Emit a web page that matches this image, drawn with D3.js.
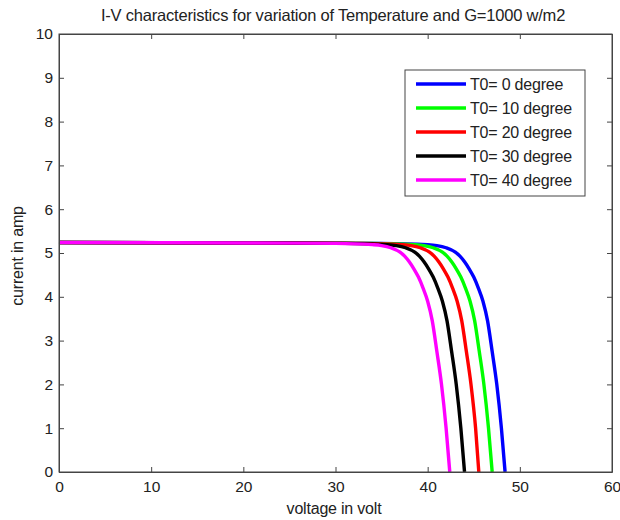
<!DOCTYPE html>
<html>
<head>
<meta charset="utf-8">
<script src="https://cdn.jsdelivr.net/npm/d3@7"></script>
<style>
  body { margin: 0; background: #fff; }
  text { font-family: "Liberation Sans", Arial, sans-serif; fill: #222; }
</style>
</head>
<body>
<svg id="chart" width="620" height="520"></svg>
<script>
'use strict';

// values
const current = [5.24, 5.23, 5.22, 5.19, 5.17, 5.12, 5.02, 4.93, 4.8, 4.64, 4.45, 4.2, 3.9, 3.45, 2.75, 2.0, 1.0, 0];
const voltT0  = [0, 20, 35, 40, 41, 42, 43, 43.5, 44, 44.5, 45, 45.5, 46, 46.5, 47, 47.5, 48, 48.4];
const voltT10 = [0, 20, 34, 38.6, 39.6, 40.6, 41.6, 42.1, 42.6, 43.1, 43.6, 44.1, 44.6, 45.1, 45.6, 46.1, 46.6, 47.0];
const voltT20 = [0, 20, 33, 37.2, 38.2, 39.2, 40.2, 40.7, 41.2, 41.7, 42.2, 42.7, 43.2, 43.7, 44.2, 44.7, 45.2, 45.55];
const voltT30 = [0, 20, 31, 35.6, 36.6, 37.6, 38.6, 39.1, 39.6, 40.1, 40.6, 41.1, 41.6, 42.1, 42.6, 43.1, 43.6, 44.0];
const voltT40 = [0, 20, 30, 34, 35, 36, 37, 37.5, 38, 38.5, 39, 39.5, 40, 40.5, 41, 41.5, 42, 42.4];

const seriesNames = ["T0= 0 degree", "T0= 10 degree", "T0= 20 degree", "T0= 30 degree", "T0= 40 degree"];
const seriesColors = ["#0000ff", "#00ff00", "#ff0000", "#000000", "#ff00ff"];
const seriesVolts = [voltT0, voltT10, voltT20, voltT30, voltT40];

const xTicks = [0, 10, 20, 30, 40, 50, 60];
const yTicks = [0, 1, 2, 3, 4, 5, 6, 7, 8, 9, 10];

const plotLeft = 59, plotRight = 612, plotTop = 34, plotBottom = 472;

const svg = d3.select("#chart");

let x = d3.scaleLinear().domain([0, 60]).range([plotLeft, plotRight]);
let y = d3.scaleLinear().domain([0, 10]).range([plotBottom, plotTop]);

// curves
let line = d3.line()
    .x(d => x(d[0]))
    .y(d => y(d[1]))
    .curve(d3.curveMonotoneX);

seriesVolts.forEach((volts, i) => {
    let pts = volts.map((v, j) => [v, current[j]]);
    svg.append("path")
        .attr("d", line(pts))
        .attr("fill", "none")
        .attr("stroke", seriesColors[i])
        .attr("stroke-width", 3.4)
        .attr("stroke-linejoin", "round");
});

// frame with inward ticks, matlab style
const axisColor = "#444";
svg.append("rect")
    .attr("x", plotLeft).attr("y", plotTop)
    .attr("width", plotRight - plotLeft).attr("height", plotBottom - plotTop)
    .attr("fill", "none")
    .attr("stroke", axisColor)
    .attr("stroke-width", 1);

let xAxis = svg.append("g")
    .attr("transform", `translate(0,${plotBottom})`)
    .call(d3.axisBottom(x).tickValues(xTicks).tickSizeInner(-5).tickSizeOuter(0).tickPadding(9));
let xAxisTop = svg.append("g")
    .attr("transform", `translate(0,${plotTop})`)
    .call(d3.axisTop(x).tickValues(xTicks).tickSizeInner(-5).tickSizeOuter(0).tickFormat(""));
let yAxis = svg.append("g")
    .attr("transform", `translate(${plotLeft},0)`)
    .call(d3.axisLeft(y).tickValues(yTicks).tickSizeInner(-5).tickSizeOuter(0).tickPadding(6));
let yAxisRight = svg.append("g")
    .attr("transform", `translate(${plotRight},0)`)
    .call(d3.axisRight(y).tickValues(yTicks).tickSizeInner(-5).tickSizeOuter(0).tickFormat(""));

[xAxis, xAxisTop, yAxis, yAxisRight].forEach(g => {
    g.select(".domain").attr("stroke", axisColor);
    g.selectAll(".tick line").attr("stroke", axisColor);
    g.selectAll(".tick text")
        .style("font-family", "Liberation Sans, Arial, sans-serif")
        .style("font-size", "15.5px")
        .attr("fill", "#222");
});

// title and axis labels
svg.append("text")
    .attr("x", 333).attr("y", 21)
    .attr("text-anchor", "middle")
    .style("font-size", "16.5px")
    .style("letter-spacing", "-0.2px")
    .text("I-V characteristics for variation of Temperature and G=1000 w/m2");

svg.append("text")
    .attr("x", 334).attr("y", 514)
    .attr("text-anchor", "middle")
    .style("font-size", "16px")
    .style("letter-spacing", "-0.2px")
    .text("voltage in volt");

svg.append("text")
    .attr("transform", "translate(23,256) rotate(-90)")
    .attr("text-anchor", "middle")
    .style("font-size", "16px")
    .style("letter-spacing", "-0.2px")
    .text("current in amp");

// legend
let legend = svg.append("g");
legend.append("rect")
    .attr("x", 405).attr("y", 70)
    .attr("width", 180).attr("height", 126)
    .attr("fill", "#fff")
    .attr("stroke", axisColor)
    .attr("stroke-width", 1);

let rowY = d3.scalePoint().domain(seriesNames).range([84, 180]);

seriesNames.forEach((name, i) => {
    legend.append("line")
        .attr("x1", 416).attr("x2", 466)
        .attr("y1", rowY(name)).attr("y2", rowY(name))
        .attr("stroke", seriesColors[i])
        .attr("stroke-width", 3.4);
    legend.append("text")
        .attr("x", 470).attr("y", rowY(name))
        .attr("dy", "0.36em")
        .style("font-size", "16px")
        .style("letter-spacing", "-0.2px")
        .text(name);
});
</script>
</body>
</html>
